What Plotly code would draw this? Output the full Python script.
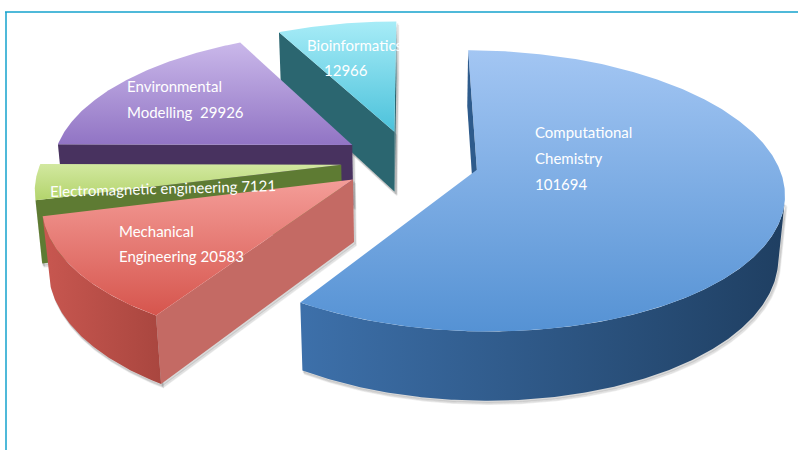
import numpy as np
import plotly.graph_objects as go

# ---- data ----------------------------------------------------------------
projects = ["Computational Chemistry", "Mechanical Engineering",
            "Electromagnetic engineering", "Environmental Modelling",
            "Bioinformatics"]
hours = [101694, 20583, 7121, 29926, 12966]
label_lines = [["Computational", "Chemistry", "{v}"],
               ["Mechanical", "Engineering {v}"],
               ["Electromagnetic engineering {v}"],
               ["Environmental", "Modelling  {v}"],
               ["Bioinformatics", "{v}"]]

# ---- styling ---------------------------------------------------------------
# (top light, top dark, wall left, wall right, cut face)
palette = [
    ("#a3c6f3", "#5592d4", "#3d70aa", "#1f3f62", "#2e5b8c"),
    ("#f49d98", "#d6554d", "#c85750", "#a9463f", "#c46a64"),
    ("#d2e8a0", "#b3d46c", "#6d8c3b", "#56702c", "#5e7b33"),
    ("#cab8ea", "#9174c4", "#4f3872", "#3b2756", "#48325f"),
    ("#a7ecf7", "#4cc2db", "#2e6e7a", "#1f5560", "#2b6670"),
]
# label anchor positions (pixel space): list of (x, y, xanchor) per line
label_pos = [
    [(533, 132, "left"), (533, 158, "left"), (533, 184, "left")],
    [(117, 231, "left"), (117, 256, "left")],
    [(48, 188, "left")],
    [(125, 86, "left"), (125, 112, "left")],
    [(305, 45, "left"), (346, 70, "center")],
]

W, H = 798, 450
CX, CY = 410.0, 161.0          # projected pie centre
FOCAL, DIST = 1800.0, 6.0      # perspective camera
TILT = np.radians(26.7)
S, C = np.sin(TILT), np.cos(TILT)
THICK = 0.233                  # disc thickness (radius = 1)
EXPLODE = 0.23
CAM = np.array([0.0, DIST * S, -DIST * C])   # (X, height, Z)


def project(X, Z, h):
    X, Z, h = np.asarray(X, float), np.asarray(Z, float), np.asarray(h, float)
    u = Z * S + h * C
    w = Z * C - h * S
    k = FOCAL / (DIST + w)
    return CX + X * k, CY - u * k


def cam_dist(X, Z, h):
    return float(np.mean(np.sqrt((np.asarray(X) - CAM[0]) ** 2 +
                                 (np.asarray(h) - CAM[1]) ** 2 +
                                 (np.asarray(Z) - CAM[2]) ** 2)))


def poly_trace(X, Z, h, grad_type, c0, c1):
    sx, sy = project(X, Z, h)
    sx = np.append(sx, sx[0])
    sy = np.append(sy, sy[0])
    return go.Scatter(x=sx, y=sy, mode="lines", fill="toself",
                      line=dict(width=0, color=c1),
                      fillgradient=dict(type=grad_type,
                                        colorscale=[[0, c0], [1, c1]]),
                      hoverinfo="skip", showlegend=False)


def shadow_traces(X, Z, h):
    sx, sy = project(X, Z, h)
    sx = np.append(sx, sx[0])
    sy = np.append(sy, sy[0])
    out = []
    for off, alpha in ((3.5, 0.10), (2.0, 0.14)):
        out.append(go.Scatter(x=sx + off * 0.6, y=sy + off, mode="lines",
                              fill="toself", line=dict(width=1.5,
                              color=f"rgba(90,90,90,{alpha})"),
                              fillcolor=f"rgba(90,90,90,{alpha})",
                              hoverinfo="skip", showlegend=False))
    return out


total = float(sum(hours))
bounds = np.concatenate([[0.0], np.cumsum(hours) / total]) * 2 * np.pi

side_faces = []   # (distance, trace)
top_faces = []
shadows = []

for i, v in enumerate(hours):
    a1, a2 = bounds[i], bounds[i + 1]
    mid = 0.5 * (a1 + a2)
    ex, ez = EXPLODE * np.sin(mid), EXPLODE * np.cos(mid)
    top_l, top_d, wall_l, wall_r, cut = palette[i]

    n = max(int(np.degrees(a2 - a1) * 2), 12)
    th = np.linspace(a1, a2, n)
    rx, rz = ex + np.sin(th), ez + np.cos(th)

    # top face (gradient runs from the bottom edge up)
    tx = np.concatenate([[ex], rx])
    tz = np.concatenate([[ez], rz])
    top_faces.append(poly_trace(tx, tz, np.zeros_like(tx), "vertical",
                                top_d, top_l))

    # outer wall, visible portions only
    vis = np.sin(th) * (CAM[0] - rx) + np.cos(th) * (CAM[2] - rz) > 0
    idx = np.flatnonzero(vis)
    if idx.size:
        runs = np.split(idx, np.flatnonzero(np.diff(idx) > 1) + 1)
        for r in runs:
            if r.size < 2:
                continue
            wx = np.concatenate([rx[r], rx[r][::-1]])
            wz = np.concatenate([rz[r], rz[r][::-1]])
            wh = np.concatenate([np.zeros(r.size), -THICK * np.ones(r.size)])
            side_faces.append((cam_dist(wx, wz, wh),
                               poly_trace(wx, wz, wh, "horizontal",
                                          wall_l, wall_r)))
            shadows.extend(shadow_traces(wx, wz, wh))

    # radial cut faces
    for a, nx, nz in ((a1, -np.cos(a1), np.sin(a1)),
                      (a2, np.cos(a2), -np.sin(a2))):
        px, pz = ex + 0.5 * np.sin(a), ez + 0.5 * np.cos(a)
        if nx * (CAM[0] - px) + nz * (CAM[2] - pz) <= 0:
            continue
        qx = np.array([ex, ex + np.sin(a), ex + np.sin(a), ex])
        qz = np.array([ez, ez + np.cos(a), ez + np.cos(a), ez])
        qh = np.array([0.0, 0.0, -THICK, -THICK])
        side_faces.append((cam_dist(qx, qz, qh),
                           poly_trace(qx, qz, qh, "horizontal", cut, cut)))
        shadows.extend(shadow_traces(qx, qz, qh))

fig = go.Figure()
for tr in shadows:
    fig.add_trace(tr)
for _, tr in sorted(side_faces, key=lambda t: -t[0]):
    fig.add_trace(tr)
for tr in top_faces:
    fig.add_trace(tr)

# slice labels
annotations = []
for i, lines in enumerate(label_lines):
    for text, (x, y, anchor) in zip(lines, label_pos[i]):
        annotations.append(dict(
            x=x, y=y, xref="x", yref="y", xanchor=anchor, yanchor="middle",
            text=text.format(v=hours[i]), showarrow=False,
            textangle=-1.5 if i == 2 else 0,
            font=dict(family="Lato, Open Sans, sans-serif", size=15,
                      color="white")))

frame = "#14a2cc"
fig.update_layout(
    width=W, height=H,
    margin=dict(l=0, r=0, t=0, b=0),
    paper_bgcolor="white", plot_bgcolor="white",
    xaxis=dict(range=[0, W], visible=False, fixedrange=True),
    yaxis=dict(range=[H, 0], visible=False, fixedrange=True),
    annotations=annotations,
    shapes=[
        dict(type="line", xref="x", yref="y", x0=5, x1=W, y0=12, y1=12,
             line=dict(color=frame, width=1.5)),
        dict(type="line", xref="x", yref="y", x0=6, x1=6, y0=12, y1=H,
             line=dict(color=frame, width=1.5)),
    ],
)

fig.write_html("out.html")
